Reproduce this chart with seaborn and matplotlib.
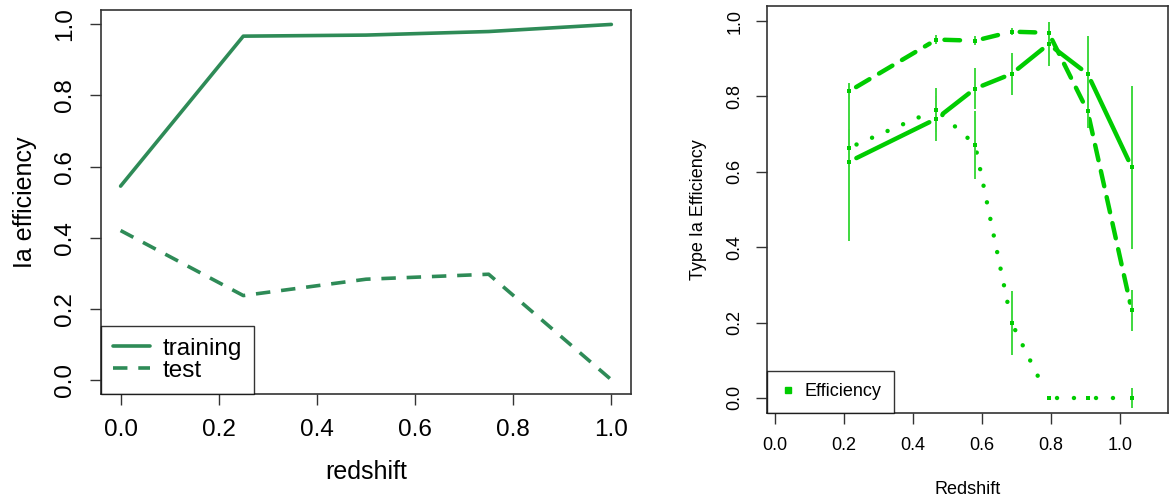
import matplotlib
matplotlib.use("Agg")
import matplotlib.pyplot as plt
import numpy as np
import pandas as pd
import seaborn as sns
from matplotlib.lines import Line2D

# left panel: efficiency vs redshift for training / test
z_left = [0.0, 0.25, 0.5, 0.75, 1.0]
eff_training = [0.545, 0.967, 0.970, 0.980, 1.000]
eff_test = [0.420, 0.237, 0.283, 0.297, 0.000]

# right panel: three efficiency curves with error bars
z_right = [0.215, 0.468, 0.580, 0.686, 0.793, 0.906, 1.034]
eff_solid = [0.627, 0.741, 0.821, 0.860, 0.939, 0.860, 0.612]
err_solid = [0.210, 0.060, 0.054, 0.055, 0.058, 0.100, 0.216]
eff_dashed = [0.814, 0.951, 0.948, 0.972, 0.969, 0.761, 0.232]
err_dashed = [0.020, 0.012, 0.012, 0.010, 0.028, 0.045, 0.054]
eff_dotted = [0.664, 0.765, 0.672, 0.199, 0.000, 0.000, 0.000]
err_dotted = [0.050, 0.058, 0.090, 0.085, 0.000, 0.000, 0.027]

ticks = [0.0, 0.2, 0.4, 0.6, 0.8, 1.0]

sns.set_theme(style="ticks")
plt.rcParams["font.family"] = ["Liberation Sans", "DejaVu Sans"]
plt.rcParams["text.color"] = "black"
plt.rcParams["axes.labelcolor"] = "black"
plt.rcParams["xtick.color"] = "black"
plt.rcParams["ytick.color"] = "black"

GREEN_L = "#2E8B57"
GREEN_R = "#00CC00"
GREEN_ERR = "#3FD83F"


def gapped_segments(ax, xs, ys, gap_px):
    """Split a polyline into segments that stop short of each point (R type='b')."""
    to_px = ax.transData
    to_data = ax.transData.inverted()
    pts = to_px.transform(np.column_stack([xs, ys]))
    rows = []
    for i in range(len(pts) - 1):
        p0, p1 = pts[i], pts[i + 1]
        d = p1 - p0
        length = np.hypot(*d)
        if length <= 2 * gap_px:
            continue
        u = d / length
        a, b = to_data.transform([p0 + u * gap_px, p1 - u * gap_px])
        rows.append({"seg": i, "x": a[0], "y": a[1]})
        rows.append({"seg": i, "x": b[0], "y": b[1]})
    return pd.DataFrame(rows)


fig = plt.figure(figsize=(11.7, 5.03), dpi=100)
ax1 = fig.add_axes([0.0863, 0.2167, 0.453, 0.763])
ax2 = fig.add_axes([0.6556, 0.179, 0.3427, 0.809])

# ---- left panel
left = pd.DataFrame({"redshift": z_left, "training": eff_training, "test": eff_test})
sns.lineplot(data=left, x="redshift", y="training", ax=ax1, color=GREEN_L, lw=2.6,
             estimator=None, sort=False)
sns.lineplot(data=left, x="redshift", y="test", ax=ax1, color=GREEN_L, lw=2.6,
             estimator=None, sort=False, linestyle=(0, (4, 3)))
ax1.set_xlim(-0.04, 1.04)
ax1.set_ylim(-0.04, 1.04)
ax1.set_xticks(ticks)
ax1.set_yticks(ticks)
ax1.set_xticklabels([f"{t:.1f}" for t in ticks])
ax1.set_yticklabels([f"{t:.1f}" for t in ticks], rotation=90, va="center")
ax1.tick_params(axis="both", labelsize=17.5, length=8, width=1, color="#333333", pad=10)
ax1.set_xlabel("redshift", fontsize=18, labelpad=14)
ax1.set_ylabel("Ia efficiency", fontsize=18, labelpad=12)
handles = [Line2D([], [], color=GREEN_L, lw=2.6),
           Line2D([], [], color=GREEN_L, lw=2.6, linestyle=(0, (4, 3)))]
leg = ax1.legend(handles, ["training", "test"], loc="lower left", bbox_to_anchor=(0, 0),
                 borderaxespad=0, fontsize=17.5, frameon=True, fancybox=False,
                 handlelength=1.5, handletextpad=0.55, labelspacing=0.0,
                 borderpad=0.5)
leg.get_frame().set_edgecolor("black")
leg.get_frame().set_linewidth(1.0)

# ---- right panel
ax2.set_xlim(-0.023, 1.139)
ax2.set_ylim(-0.04, 1.04)
series = [
    (eff_solid, err_solid, "-"),
    (eff_dashed, err_dashed, (0, (3.5, 2.5))),
    (eff_dotted, err_dotted, (0, (0.01, 3.8))),
]
for eff, err, ls in series:
    segs = gapped_segments(ax2, z_right, eff, gap_px=8)
    sns.lineplot(data=segs, x="x", y="y", units="seg", ax=ax2, color=GREEN_R, lw=3.2,
                 estimator=None, sort=False, linestyle=ls, dash_capstyle="round",
                 solid_capstyle="round")
for eff, err, ls in series:
    lo = np.array(eff) - np.array(err)
    hi = np.array(eff) + np.array(err)
    ax2.vlines(z_right, lo, hi, color=GREEN_ERR, lw=1.4, zorder=3)
    sns.scatterplot(x=z_right, y=eff, ax=ax2, color=GREEN_R, marker="s", s=12,
                    linewidth=0, zorder=4)
ax2.set_xlim(-0.023, 1.139)
ax2.set_ylim(-0.04, 1.04)
ax2.set_xticks(ticks)
ax2.set_yticks(ticks)
ax2.set_xticklabels([f"{t:.1f}" for t in ticks])
ax2.set_yticklabels([f"{t:.1f}" for t in ticks], rotation=90, va="center")
ax2.tick_params(axis="both", labelsize=13, length=8, width=1, color="#333333", pad=9)
ax2.set_xlabel("Redshift", fontsize=13, labelpad=20)
ax2.set_ylabel("Type Ia Efficiency", fontsize=13, labelpad=14)
h2 = [Line2D([], [], color=GREEN_R, marker="s", markersize=5, lw=0)]
leg2 = ax2.legend(h2, ["Efficiency"], loc="lower left", bbox_to_anchor=(0, 0),
                  borderaxespad=0, fontsize=13, frameon=True, fancybox=False,
                  handlelength=0.9, handletextpad=0.5, borderpad=0.7)
leg2.get_frame().set_edgecolor("black")
leg2.get_frame().set_linewidth(1.0)

for ax in (ax1, ax2):
    for sp in ax.spines.values():
        sp.set_visible(True)
        sp.set_color("#333333")
        sp.set_linewidth(1.2)

fig.savefig("out.png", dpi=100)
